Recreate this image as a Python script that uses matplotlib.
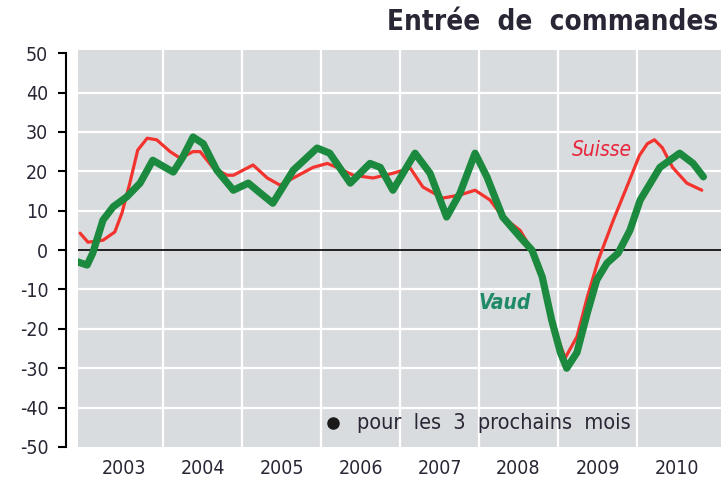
import matplotlib
matplotlib.use("Agg")
import matplotlib.pyplot as plt
import numpy as np

# series (decimal year, balance in %)
suisse_x = [2002.95, 2003.05, 2003.24, 2003.39, 2003.48, 2003.58, 2003.68, 2003.80,
            2003.92, 2004.09, 2004.22, 2004.38, 2004.47, 2004.63, 2004.81, 2004.89,
            2005.14, 2005.32, 2005.48, 2005.65, 2005.90, 2006.08, 2006.20, 2006.41,
            2006.66, 2006.91, 2007.13, 2007.29, 2007.54, 2007.76, 2007.95, 2008.14,
            2008.30, 2008.52, 2008.67, 2008.80, 2008.92, 2009.09, 2009.24, 2009.37,
            2009.51, 2009.70, 2009.87, 2010.03, 2010.13, 2010.22, 2010.32, 2010.45,
            2010.63, 2010.82]
suisse_y = [4.3, 2.0, 2.5, 4.6, 9.4, 17, 25.4, 28.4,
            28, 25, 23.3, 25, 25, 21, 19, 19,
            21.6, 18.3, 16.5, 18.3, 21, 22, 21, 19,
            18.3, 19.5, 20.8, 16, 13.2, 14, 15.2, 12.7,
            8.4, 5, 0, -7, -18, -27.4, -22, -12,
            -2.5, 7.6, 16, 24, 27, 28, 26, 21,
            17, 15.2]

vaud_x = [2002.92, 2003.04, 2003.11, 2003.24, 2003.37, 2003.54, 2003.71, 2003.87,
          2004.13, 2004.25, 2004.38, 2004.51, 2004.68, 2004.89, 2005.08, 2005.23,
          2005.39, 2005.65, 2005.95, 2006.11, 2006.37, 2006.62, 2006.75, 2006.91,
          2007.19, 2007.38, 2007.59, 2007.76, 2007.95, 2008.10, 2008.30, 2008.52,
          2008.67, 2008.80, 2008.92, 2009.03, 2009.11, 2009.24, 2009.37, 2009.49,
          2009.62, 2009.76, 2009.91, 2010.04, 2010.29, 2010.54, 2010.71, 2010.84]
vaud_y = [-3, -3.8, -0.8, 7.6, 11, 13.5, 17, 22.8,
          19.8, 23.6, 28.7, 27, 20.3, 15.2, 17, 14.5,
          11.9, 20.3, 25.9, 24.6, 17, 22, 21, 15.2,
          24.6, 19.5, 8.4, 14.5, 24.6, 18.6, 8.4, 3.3,
          0, -6.8, -17.8, -26, -30, -26, -16, -7.6,
          -3.3, -0.8, 5, 12.7, 21, 24.6, 22, 18.6]

years = [2003, 2004, 2005, 2006, 2007, 2008, 2009, 2010]
yticks = [50, 40, 30, 20, 10, 0, -10, -20, -30, -40, -50]

plt.rcParams['font.family'] = ['DejaVu Sans']
plt.rcParams['font.stretch'] = 'condensed'
txt = '#2a2635'

fig = plt.figure(figsize=(7.24, 4.79), dpi=100)
ax = fig.add_axes([78/724, 32/479, 643/724, 397/479])
ax.set_facecolor('#d9dcdf')

ax.set_xlim(2002.924, 2011.063)
ax.set_ylim(-50, 50.8)

for yr in years[1:]:
    ax.axvline(yr, color='white', lw=1.6, zorder=1)
for v in yticks[1:-1]:
    if v != 0:
        ax.axhline(v, color='white', lw=1.6, zorder=1)
ax.axhline(0, color='black', lw=1.2, zorder=2)

ax.plot(suisse_x, suisse_y, color='#f2332e', lw=2.3, zorder=3,
        solid_joinstyle='round', solid_capstyle='round')
ax.plot(vaud_x, vaud_y, color='#1b8a3e', lw=5.2, zorder=4,
        solid_joinstyle='round', solid_capstyle='round')

# axes styling
for s in ['top', 'right', 'bottom']:
    ax.spines[s].set_visible(False)
ax.spines['left'].set_position(('outward', 8.6))
ax.spines['left'].set_linewidth(1.5)
ax.spines['left'].set_bounds(-50, 50)
ax.set_yticks(yticks)
ax.set_yticklabels([str(v) for v in yticks])
ax.tick_params(axis='y', direction='out', length=5.8, width=1.5, pad=7,
               labelsize=14, labelcolor=txt)
ax.set_xticks([])
for yr in years:
    ax.text(yr + 0.5, -55.5, str(yr), ha='center', va='center',
            fontsize=14, color=txt)

ax.text(2009.55, 25.4, 'Suisse', color='#e8253c', fontsize=15,
        style='italic', ha='center', va='center')
ax.text(2008.33, -13.5, 'Vaud', color='#1f8a66', fontsize=15,
        style='italic', fontweight='bold', ha='center', va='center')

ax.plot([2006.15], [-44], 'o', color='#1a1a1a', ms=8, zorder=5)
ax.text(2006.45, -44, 'pour  les  3  prochains  mois', color=txt,
        fontsize=15.5, ha='left', va='center')

fig.text(718/724, 1 - 22/479, 'Entrée  de  commandes', ha='right', va='center',
         fontsize=20, fontweight='bold', color=txt)

fig.savefig('out.png', dpi=100)
